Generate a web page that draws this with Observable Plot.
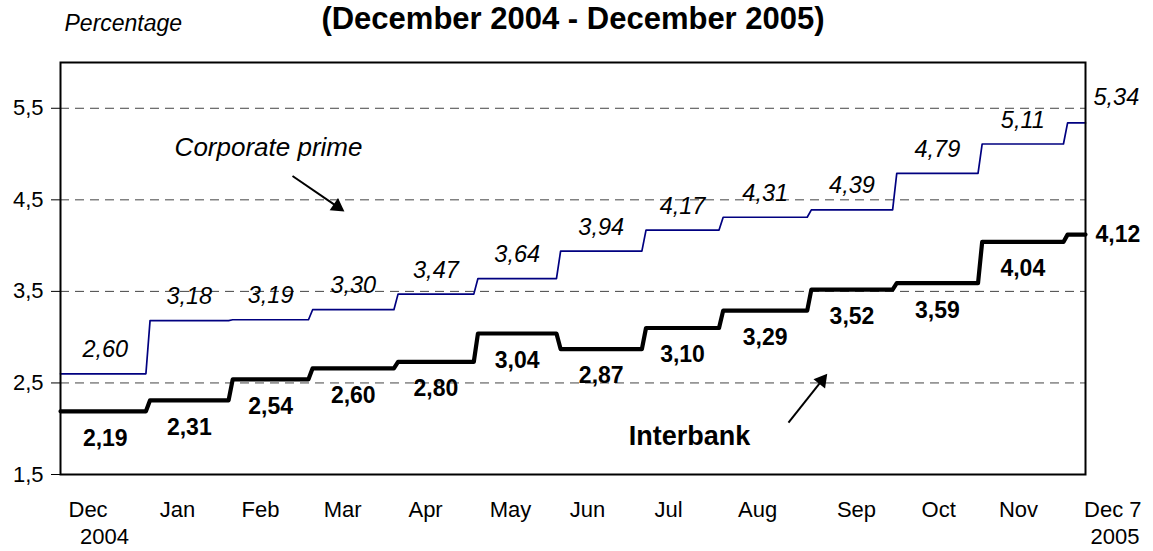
<!DOCTYPE html>
<html>
<head>
<meta charset="utf-8">
<script src="https://cdn.jsdelivr.net/npm/d3@7"></script>
<script src="https://cdn.jsdelivr.net/npm/@observablehq/plot@0.6"></script>
<style>
  html, body { margin: 0; padding: 0; background: #fff; }
  #chart svg { display: block; }
</style>
</head>
<body>
<div id="chart"></div>
<script>
// ---- data ----
const title = "(December 2004 - December 2005)";
const yLabel = "Percentage";
const months = ["Dec", "Jan", "Feb", "Mar", "Apr", "May", "Jun", "Jul", "Aug", "Sep", "Oct", "Nov"];
const lastMonth = "Dec 7";
const years = ["2004", "2005"];
// days after 1 Dec 2004 where each rate level starts
const stepStart = [0, 31, 61, 90, 121, 150, 180, 211, 239, 271, 302, 333, 364];
const endDay = 372;
// day positions of the month labels on the x axis
const monthTickDay = [10, 42.5, 72.6, 102.4, 132.5, 163.3, 191.3, 220.7, 253, 288.9, 318.7, 347.7];
const corporatePrime = [2.60, 3.18, 3.19, 3.30, 3.47, 3.64, 3.94, 4.17, 4.31, 4.39, 4.79, 5.11, 5.34];
const interbank = [2.19, 2.31, 2.54, 2.66, 2.73, 3.04, 2.87, 3.10, 3.29, 3.52, 3.59, 4.04, 4.12];
const interbankLabels = ["2,19", "2,31", "2,54", "2,60", "2,80", "3,04", "2,87", "3,10", "3,29", "3,52", "3,59", "4,04", "4,12"];
const yTicks = [1.5, 2.5, 3.5, 4.5, 5.5];
const gridTicks = [2.5, 3.5, 4.5, 5.5];
// annotation anchors (day, value)
const corpNote = {text: "Corporate prime", x: 75.5, y: 5.075, x1: 84.2, y1: 4.76, x2: 102.7, y2: 4.38};
const interNote = {text: "Interbank", x: 228.3, y: 1.914, x1: 264.2, y1: 2.067, x2: 278, y2: 2.59};

// ---- helpers ----
const comma = (v) => v.toFixed(2).replace(".", ",");
const slope = 1.5;
function steps(vals) {
  const pts = [];
  vals.forEach((v, i) => {
    const x0 = i === 0 ? stepStart[0] : stepStart[i] + slope;
    const x1 = i < vals.length - 1 ? stepStart[i + 1] : endDay;
    pts.push({x: x0, y: v}, {x: x1, y: v});
  });
  return pts;
}
const mids = stepStart.slice(0, -1).map((s, i) => (s + slope + stepStart[i + 1]) / 2);
const corpLabels = corporatePrime.slice(0, -1).map((v, i) => ({x: mids[i], y: v, t: comma(v)}));
const interLabelsMain = interbank.slice(0, -1).map((v, i) => ({x: mids[i], y: v, t: interbankLabels[i]}));
const corpLast = [{x: endDay, y: corporatePrime[12], t: comma(corporatePrime[12])}];
const interLast = [{x: endDay, y: interbank[12], t: interbankLabels[12]}];

function headOf(n, f) {
  return {x: n.x2 - f * (n.x2 - n.x1), y: n.y2 - f * (n.y2 - n.y1)};
}
const notes = [corpNote, interNote];
const font = "'Liberation Sans', Arial, Helvetica, sans-serif";

const chart = Plot.plot({
  width: 1153,
  height: 551,
  marginLeft: 60,
  marginRight: 68,
  marginTop: 62,
  marginBottom: 77,
  style: {fontFamily: font, background: "white", color: "black"},
  x: {domain: [0, endDay], axis: null},
  y: {domain: [1.5, 6], axis: null},
  marks: [
    Plot.ruleY(gridTicks, {stroke: "#444", strokeWidth: 1, strokeDasharray: "9,6"}),
    Plot.axisY(yTicks, {tickFormat: (d) => d.toFixed(1).replace(".", ","), fontSize: 22, tickSize: 9, tickPadding: 8, label: null}),
    Plot.line(steps(corporatePrime), {x: "x", y: "y", stroke: "#000080", strokeWidth: 1.7}),
    Plot.line(steps(interbank), {x: "x", y: "y", stroke: "black", strokeWidth: 4.2}),
    Plot.frame({stroke: "black", strokeWidth: 2}),
    // value labels
    Plot.text(corpLabels, {x: "x", y: "y", text: "t", dy: -24, fontSize: 23.5, fontStyle: "italic", fill: "black"}),
    Plot.text(corpLast, {x: "x", y: "y", text: "t", dy: -25, dx: 8, textAnchor: "start", fontSize: 23.5, fontStyle: "italic", fill: "black"}),
    Plot.text(interLabelsMain, {x: "x", y: "y", text: "t", dy: 27, fontSize: 23, fontWeight: "bold", fill: "black"}),
    Plot.text(interLast, {x: "x", y: "y", text: "t", dx: 10, textAnchor: "start", fontSize: 23, fontWeight: "bold", fill: "black"}),
    // x axis labels
    Plot.text(months, {x: (d, i) => monthTickDay[i], text: (d) => d, frameAnchor: "bottom", lineAnchor: "middle", dy: 35, fontSize: 22, fill: "black"}),
    Plot.text([lastMonth], {x: endDay, text: (d) => d, frameAnchor: "bottom", lineAnchor: "middle", textAnchor: "end", dx: 56, dy: 35, fontSize: 22, fill: "black"}),
    Plot.text([years[0]], {x: monthTickDay[0] + 6, text: (d) => d, frameAnchor: "bottom", lineAnchor: "middle", dy: 62, fontSize: 22, fill: "black"}),
    Plot.text([years[1]], {x: endDay, text: (d) => d, frameAnchor: "bottom", lineAnchor: "middle", textAnchor: "end", dx: 54, dy: 62, fontSize: 22, fill: "black"}),
    // annotations
    Plot.text([corpNote], {x: "x", y: "y", text: "text", fontSize: 26, fontStyle: "italic", fill: "black"}),
    Plot.text([interNote], {x: "x", y: "y", text: "text", fontSize: 27, fontWeight: "bold", fill: "black"}),
    Plot.link(notes, {x1: "x1", y1: "y1", x2: (n) => headOf(n, 0.15).x, y2: (n) => headOf(n, 0.15).y, stroke: "black", strokeWidth: 2}),
    Plot.dot([headOf(corpNote, 0.12)], {x: "x", y: "y", symbol: "triangle", r: 5.5, fill: "black", stroke: "none", rotate: 124.5}),
    Plot.dot([headOf(interNote, 0.12)], {x: "x", y: "y", symbol: "triangle", r: 5.5, fill: "black", stroke: "none", rotate: 38.4}),
    // title & unit label
    Plot.text([title], {frameAnchor: "top", lineAnchor: "middle", dy: -43, fontSize: 31, fontWeight: "bold", fill: "black"}),
    Plot.text([yLabel], {frameAnchor: "top-left", lineAnchor: "middle", textAnchor: "start", dx: 4, dy: -39, fontSize: 23, fontStyle: "italic", fill: "black"})
  ]
});
document.getElementById("chart").append(chart);
</script>
</body>
</html>
